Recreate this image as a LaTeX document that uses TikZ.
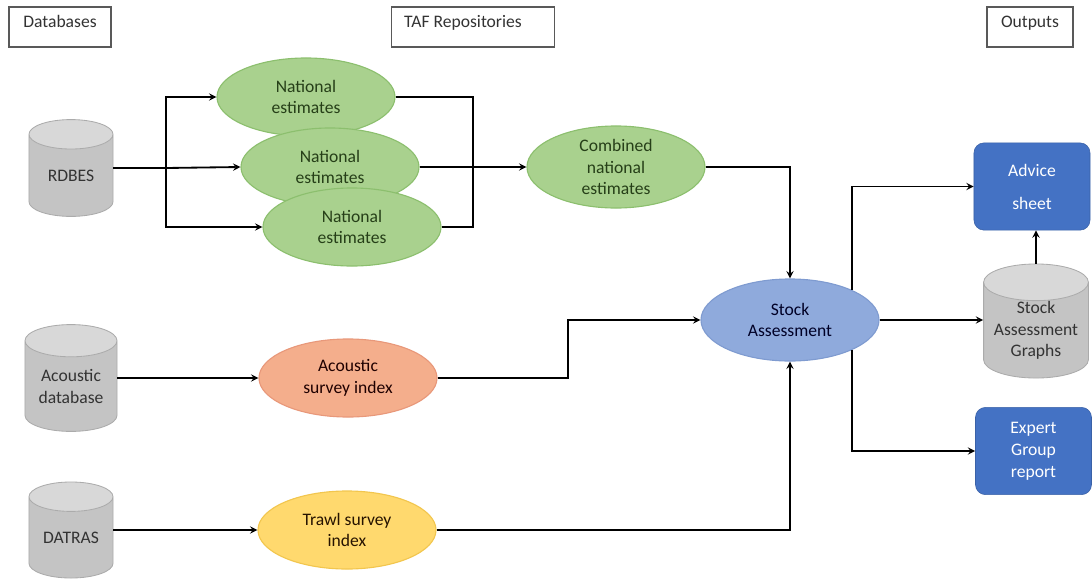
\documentclass[tikz,border=0pt]{standalone}
\usepackage{fontspec}
\setmainfont{Carlito}
\usetikzlibrary{shapes.geometric}
\tikzset{>=stealth}

\definecolor{estfill}{HTML}{A9D18E}
\definecolor{estline}{HTML}{8CBF6E}
\definecolor{esttext}{HTML}{263F18}
\definecolor{acfill}{HTML}{F4AE8C}
\definecolor{acline}{HTML}{E8987A}
\definecolor{trfill}{HTML}{FFD96E}
\definecolor{trline}{HTML}{F2C64E}
\definecolor{safill}{HTML}{8FAADC}
\definecolor{saline}{HTML}{7F9BD0}
\definecolor{outfill}{HTML}{4472C4}
\definecolor{dbbody}{HTML}{C4C4C4}
\definecolor{dbtop}{HTML}{D8D8D8}
\definecolor{dbline}{HTML}{ABABAB}

\begin{document}
\begin{tikzpicture}[x=0.025cm, y=-0.025cm,
  every node/.style={font=\fontsize{12.5}{15.5}\selectfont, align=center},
  header/.style={draw=black!65, fill=white, line width=0.8pt, minimum height=1cm,
    inner sep=0pt, text depth=8pt, text=black!80},
  oval/.style={ellipse, line width=0.8pt, minimum width=4.45cm, minimum height=1.95cm, inner sep=0pt},
  est/.style={oval, fill=estfill, draw=estline, text=esttext},
  db/.style={cylinder, shape border rotate=90, aspect=0.35, draw=dbline, line width=0.6pt,
    cylinder uses custom fill, cylinder body fill=dbbody, cylinder end fill=dbtop,
    inner sep=0pt, anchor=shape center, text=black!80},
  outbox/.style={rectangle, rounded corners=0.25cm, fill=outfill, draw=outfill!85!black,
    text=white, minimum width=2.9cm, minimum height=2.18cm},
  flow/.style={line width=1.3pt}]

\useasboundingbox (0,0) rectangle (1092,580);

% headers
\node[header, minimum width=2.55cm] (databases) at (60,27) {Databases};
\node[header, minimum width=4.08cm] (taf) at (473,27) {\hspace*{-0.5cm}TAF Repositories};
\node[header, minimum width=2.15cm] (outputs) at (1030,27) {Outputs};

% databases
\node[db, text width=2.1cm, minimum height=2.42cm] (rdbes) at (71,168) {RDBES};
\node[db, text width=2.3cm, minimum height=2.67cm] (acdb) at (71,378) {Acoustic\\database};
\node[db, text width=2.1cm, minimum height=2.4cm] (datras) at (71,530) {DATRAS};

% TAF repositories
\node[est] (ne1) at (306,97) {National\\estimates};
\node[est] (ne2) at (330,167) {National\\estimates};
\node[est] (ne3) at (352,227) {National\\estimates};
\node[est, minimum height=2.05cm] (comb) at (616,167) {Combined\\national\\estimates};
\node[oval, fill=acfill, draw=acline, text=black!80!red!60!black] (acou) at (348,378) {Acoustic\\survey index};
\node[oval, fill=trfill, draw=trline, text=black!85!orange] (trawl) at (347,530) {Trawl survey\\index};
\node[oval, fill=safill, draw=saline, minimum height=2.05cm, text=black!85!blue] (stock) at (790,320) {Stock\\Assessment};

% outputs
\node[outbox] (advice) at (1032,186.5) {Advice\\[8pt]sheet};
\node[db, text width=2.62cm, minimum height=2.7cm] (graphs) at (1036,321) {Stock\\Assessment\\Graphs};
\node[outbox] (expert) at (1033.5,451) {Expert\\Group\\report};

% connectors
\coordinate (split) at (166,168);
\coordinate (merge) at (473,167);
\coordinate (acbend) at (568,378);
\draw[flow] (rdbes.east |- rdbes.shape center) -- (split);
\draw[flow,->] (split) |- (ne1.west);
\draw[flow,->] (split) -- (ne2.west);
\draw[flow,->] (split) |- (ne3.west);
\draw[flow] (ne1.east) -| (merge);
\draw[flow] (ne3.east) -| (merge);
\draw[flow,->] (ne2.east) -- (comb.west);
\draw[flow,->] (comb.east) -| (stock.north);
\draw[flow,->] (acdb.east |- acdb.shape center) -- (acou.west);
\draw[flow,->] (acou.east) -- (acbend) |- (stock.west);
\draw[flow,->] (datras.east |- datras.shape center) -- (trawl.west);
\draw[flow,->] (trawl.east) -| (stock.south);
\draw[flow,->] (stock.26) |- (advice.west);
\draw[flow,->] (stock.-26) |- (expert.west);
\draw[flow,->] (stock.east) -- (graphs.west |- stock.east);
\draw[flow,->] (graphs.north) -- (graphs.north |- advice.south);
\end{tikzpicture}
\end{document}
